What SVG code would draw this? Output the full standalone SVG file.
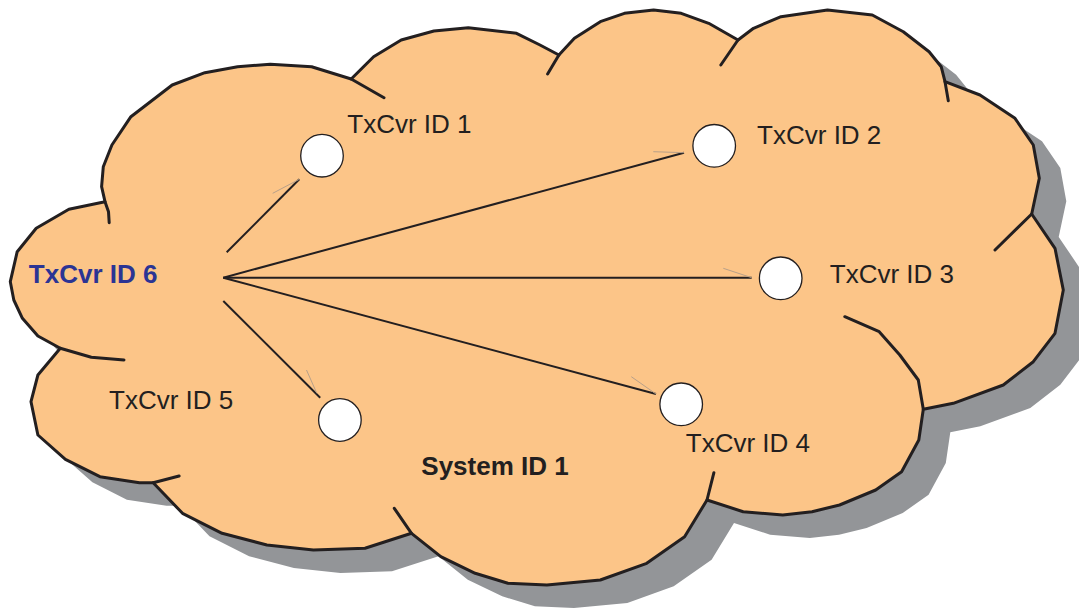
<svg xmlns="http://www.w3.org/2000/svg" width="1079" height="608" viewBox="0 0 1079 608">
<defs>
<style>
.cloud{fill:#FCC588;stroke:#231F20;stroke-width:3;stroke-linejoin:round;stroke-linecap:round}
.inner{fill:none;stroke:#231F20;stroke-width:3;stroke-linejoin:round;stroke-linecap:round}
.shadow{fill:#939598;stroke:none}
.conn{stroke:#231F20;stroke-width:2;fill:none}
.hint{stroke:#B8A088;stroke-width:1;fill:none}
.node{fill:#FFFFFF;stroke:#231F20;stroke-width:1.3}
.lbl{font-family:"Liberation Sans",Arial,sans-serif;font-size:26px;fill:#231F20}
.bold{font-weight:bold}
</style>
<path id="outline" d="M105,201.7 L68.9,209.3 L36.2,228.3 L17.2,251.7 L10.3,281.7 L13.8,300 L22.4,318.3 L37.9,336 L60.3,348.3 L37.9,375 L31,401.7 L37.9,435 L65.4,459.3 L99.9,476.7 L139.5,482.7 L153.2,482.7 L182.5,513.3 L222.1,533.3 L266.9,545 L313.4,550 L365,548.3 L411.5,533.3 L440.8,556.7 L475.2,573.3 L507.9,583.3 L546.9,585 L600.3,580 L646.7,563.3 L684.6,536.7 L707,500 L743.2,511.7 L782.8,515 L812,511.7 L839.6,505 L875.7,490 L901.6,471.7 L918.8,440 L923.3,409.3 L953.3,403.3 L1003.3,385 L1033.3,361.7 L1055,333.3 L1063.3,290 L1055,248.3 L1031.7,214 L1039.3,178.3 L1033.3,145 L1015,118.3 L980,95 L945,81.7 L941.2,66.7 L929.1,51.7 L903.3,31.7 L872.3,15 L827.5,10 L781,16.7 L753.5,28.3 L738,40 L708.7,23.3 L681.2,13.3 L653.6,10 L624.4,13.3 L600.3,21.7 L574.4,38.3 L558.9,55 L540,45 L516.5,33.3 L468.3,27.7 L433.9,31 L401.2,40 L373.6,56.7 L351.2,79 L311.6,66.7 L270.3,64.3 L237.6,66.7 L204.9,72.7 L172.2,85 L130.9,116.7 L111.9,145 L103.3,166.7 L101.6,186.7 Z"/>
</defs>
<g id="cloud">
<use href="#outline" class="shadow" transform="translate(27,23)"/>
<use href="#outline" class="cloud"/>
<path class="inner" d="M105,201.7 L108.5,211.7 L109.2,222.7 M351.2,79 L384,97.7 M558.9,55 L547.6,74 M738,40 L720.8,65 M945,81.7 L948.3,100.7 M1031.7,214 L995,250 M923.3,409.3 L918.3,380 L899.8,355 L879.2,331.7 L844.8,316.7 M707,500 L713.9,472.7 M411.5,533.3 L394.3,508.3 M153.2,482.7 L179.1,476 M60.3,348.3 L91.3,357.3 L124,360"/>
</g>
<g id="connectors">
<line class="conn" x1="226.7" y1="252.3" x2="299.3" y2="179.3"/>
<line class="conn" x1="223.3" y1="277.7" x2="684" y2="152.7"/>
<line class="conn" x1="223.3" y1="277.7" x2="751.7" y2="277.7"/>
<line class="conn" x1="223.3" y1="277.7" x2="656" y2="394"/>
<line class="conn" x1="223.3" y1="301" x2="320.2" y2="397.7"/>
<line class="hint" x1="272.7" y1="193.3" x2="299.3" y2="179.3"/>
<line class="hint" x1="653.3" y1="151.7" x2="684" y2="152.7"/>
<line class="hint" x1="723.3" y1="268.3" x2="751.7" y2="277.7"/>
<line class="hint" x1="631.3" y1="376.7" x2="656" y2="394"/>
<line class="hint" x1="306.5" y1="370" x2="316.8" y2="393.3"/>
</g>
<g id="node1"><circle class="node" cx="322" cy="155.7" r="21.3"/><text class="lbl" x="347.3" y="133.3">TxCvr ID 1</text></g>
<g id="node2"><circle class="node" cx="714.2" cy="145.8" r="21.3"/><text class="lbl" x="757.1" y="144.3">TxCvr ID 2</text></g>
<g id="node3"><circle class="node" cx="780.7" cy="278.3" r="21.3"/><text class="lbl" x="829.8" y="283.3">TxCvr ID 3</text></g>
<g id="node4"><circle class="node" cx="681.2" cy="404.3" r="21.3"/><text class="lbl" x="685.8" y="451.7">TxCvr ID 4</text></g>
<g id="node5"><circle class="node" cx="339.9" cy="420" r="21.3"/><text class="lbl" x="109" y="409.3">TxCvr ID 5</text></g>
<g id="node6"><text class="lbl bold" x="28.8" y="283.3" fill="#2B3494" style="fill:#2B3494">TxCvr ID 6</text></g>
<g id="system"><text class="lbl bold" x="421.3" y="475">System ID 1</text></g>
</svg>
